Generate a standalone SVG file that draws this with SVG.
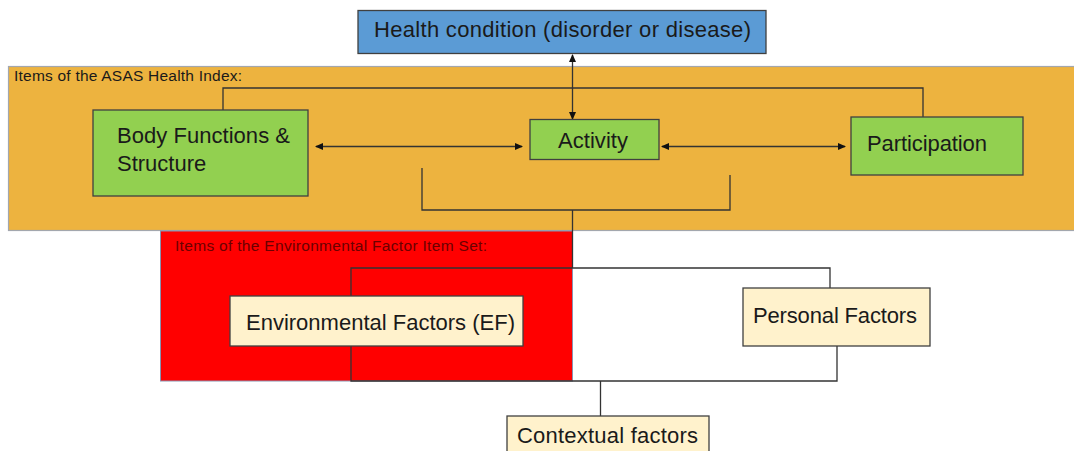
<svg xmlns="http://www.w3.org/2000/svg" width="1074" height="451" viewBox="0 0 1074 451">
<style>
.t{font-family:"Liberation Sans",Arial,sans-serif;fill:#1a1a1a}
.big{font-size:22px}
.small{font-size:15.5px}
.box{stroke:#404040;stroke-width:1.3}
.ln{fill:none;stroke:#333;stroke-width:1.3}
</style>
<defs>
<marker id="ah" markerWidth="8" markerHeight="7" refX="7" refY="3.5" orient="auto-start-reverse" markerUnits="userSpaceOnUse">
<path d="M0,0 L8,3.5 L0,7 Z" fill="#111"/>
</marker>
</defs>
<rect width="1074" height="451" fill="#fff"/>
<g id="asas-panel">
<rect x="8.5" y="66.5" width="1070" height="164" fill="#EDB33F" stroke="#a3a7ae" stroke-width="1.2"/>
<text class="t small" x="14" y="81" textLength="228">Items of the ASAS Health Index:</text>
</g>
<g id="ef-panel">
<rect x="160.5" y="231" width="412" height="150" fill="#FF0000" stroke="#8a93b0" stroke-width="1"/>
<text class="t small" x="175" y="251" style="fill:#6b0000" textLength="312">Items of the Environmental Factor Item Set:</text>
</g>
<g id="connectors">
<polyline class="ln" points="223,110 223,88 923,88 923,117"/>
<polyline class="ln" points="422,168 422,210 730,210 730,175"/>
<line class="ln" x1="572.5" y1="210" x2="572.5" y2="268"/>
<polyline class="ln" points="351,296 351,268 830,268 830,288"/>
<polyline class="ln" points="351,346 351,381 837,381 837,346"/>
<line class="ln" x1="600.5" y1="381" x2="600.5" y2="416"/>
<line class="ln" x1="316" y1="146.5" x2="522" y2="146.5" marker-start="url(#ah)" marker-end="url(#ah)"/>
<line class="ln" x1="662" y1="146.5" x2="845" y2="146.5" marker-start="url(#ah)" marker-end="url(#ah)"/>
<line class="ln" x1="572.5" y1="55" x2="572.5" y2="119" marker-start="url(#ah)" marker-end="url(#ah)"/>
</g>
<g id="health-condition">
<rect class="box" x="358" y="10.5" width="408" height="43" fill="#5B9BD5" stroke="#2f4f7f"/>
<text class="t" x="374" y="37" font-size="22" textLength="377">Health condition (disorder or disease)</text>
</g>
<g id="body-functions">
<rect class="box" x="93" y="110" width="215" height="86" fill="#92D050"/>
<text class="t big" x="117" y="143" textLength="173">Body Functions &amp;</text>
<text class="t big" x="117" y="171">Structure</text>
</g>
<g id="activity">
<rect class="box" x="530" y="119.5" width="129" height="40" fill="#92D050"/>
<text class="t big" x="558" y="148" textLength="70">Activity</text>
</g>
<g id="participation">
<rect class="box" x="851" y="117" width="172" height="58" fill="#92D050"/>
<text class="t big" x="867" y="151" textLength="120">Participation</text>
</g>
<g id="environmental-factors">
<rect class="box" x="230" y="296" width="293" height="50" fill="#FFF2CC"/>
<text class="t big" x="246" y="330" textLength="269">Environmental Factors (EF)</text>
</g>
<g id="personal-factors">
<rect class="box" x="743" y="288" width="187" height="58" fill="#FFF2CC"/>
<text class="t big" x="753" y="323" textLength="164">Personal Factors</text>
</g>
<g id="contextual-factors">
<rect class="box" x="507" y="416" width="202" height="44" fill="#FFF2CC"/>
<text class="t big" x="517" y="443" textLength="181">Contextual factors</text>
</g>
</svg>
